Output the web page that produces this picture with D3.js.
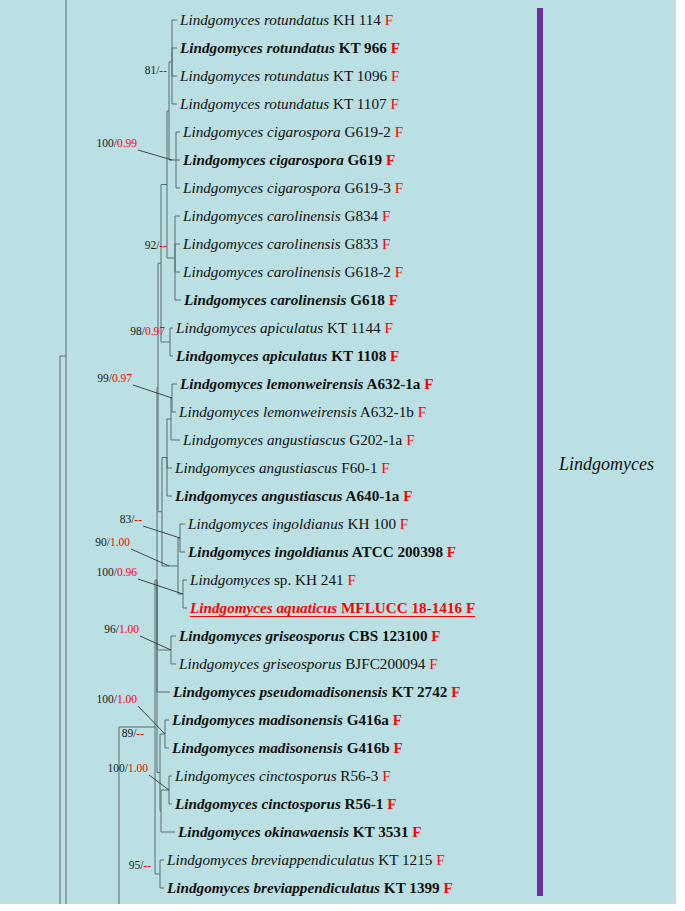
<!DOCTYPE html>
<html>
<head>
<meta charset="utf-8">
<script src="https://cdn.jsdelivr.net/npm/d3@7/dist/d3.min.js"></script>
<style>
  html, body { margin: 0; padding: 0; background: #ffffff; }
  svg { display: block; }
</style>
</head>
<body>
<svg id="chart" width="685" height="911"></svg>
<script>
// ---------------- DATA ----------------
// Taxon names (italic part) and strain codes (upright part), one per tip row
const taxa = [
  "Lindgomyces rotundatus", "Lindgomyces rotundatus", "Lindgomyces rotundatus", "Lindgomyces rotundatus",
  "Lindgomyces cigarospora", "Lindgomyces cigarospora", "Lindgomyces cigarospora",
  "Lindgomyces carolinensis", "Lindgomyces carolinensis", "Lindgomyces carolinensis", "Lindgomyces carolinensis",
  "Lindgomyces apiculatus", "Lindgomyces apiculatus",
  "Lindgomyces lemonweirensis", "Lindgomyces lemonweirensis",
  "Lindgomyces angustiascus", "Lindgomyces angustiascus", "Lindgomyces angustiascus",
  "Lindgomyces ingoldianus", "Lindgomyces ingoldianus",
  "Lindgomyces", "Lindgomyces aquaticus",
  "Lindgomyces griseosporus", "Lindgomyces griseosporus",
  "Lindgomyces pseudomadisonensis",
  "Lindgomyces madisonensis", "Lindgomyces madisonensis",
  "Lindgomyces cinctosporus", "Lindgomyces cinctosporus",
  "Lindgomyces okinawaensis",
  "Lindgomyces breviappendiculatus", "Lindgomyces breviappendiculatus"
];
const strains = [
  "KH 114", "KT 966", "KT 1096", "KT 1107",
  "G619-2", "G619", "G619-3",
  "G834", "G833", "G618-2", "G618",
  "KT 1144", "KT 1108",
  "A632-1a", "A632-1b",
  "G202-1a", "F60-1", "A640-1a",
  "KH 100", "ATCC 200398",
  "sp. KH 241", "MFLUCC 18-1416",
  "CBS 123100", "BJFC200094",
  "KT 2742",
  "G416a", "G416b",
  "R56-3", "R56-1",
  "KT 3531",
  "KT 1215", "KT 1399"
];
// ex-type (bold) rows
const boldRows = [1, 5, 10, 12, 13, 17, 19, 21, 22, 24, 25, 26, 28, 29, 31];
// new isolate (red, underlined)
const newIsolateRows = [21];
const habitatCode = "F";

// Tree topology with branch lengths (Newick). Tips "Lk" = row k; "Xk" = off-frame context tips.
const cladeCO = "((L27:3,L28:3)Cin:8,L29:14)CO";
const cladeH = "((L25:4,L26:4)Mad:5," + cladeCO + ":1)H";
const cladeA = "((L0:5,L1:5,L2:5,L3:5)Rot:3,(L4:4,L5:4,L6:4)Cig:7)A";
const cladeB = "(" + cladeA + ":2,(L7:5,L8:5,L9:5,L10:6)Car:8)B";
const cladeC = "(" + cladeB + ":6,(L11:3,L12:3)Api:9)C";
const cladeD = "(((L13:5,L14:4)Lem:1,L15:9)Lem2:4,L16:5,L17:5)D";
const cladeE = "((L18:5,L19:5)Ing:2,(L20:4,L21:4)Aq:5)E";
const cladeF = "(" + cladeD + ":5," + cladeE + ":16)F";
const cladeG = "(" + cladeC + ":3," + cladeF + ":4)G";
const cladeUpper = "(" + cladeG + ":1,(L22:5,L23:5)Gris:14,L24:13," + cladeH + ":3)Upper";
const cladeMain = "(" + cladeUpper + ":2,(L30:4,L31:4)Brevi:5)Main";
const newick = "((X-22:50,X46:50)N66:6,((" + cladeMain + ":36,X40:20)N119:29,X60:10)Z:30)R;";

// Support values: ML bootstrap / Bayesian PP
const supportNodes = ["Rot", "Cig", "Car", "Api", "Lem", "Ing", "E", "Aq", "Gris", "Mad", "Main", "Cin", "Brevi"];
const supportBS    = ["81", "100", "92", "98", "99", "83", "90", "100", "96", "100", "89", "100", "95"];
const supportPP    = ["--", "0.99", "--", "0.97", "0.97", "--", "1.00", "0.96", "1.00", "1.00", "--", "1.00", "--"];

const cladeName = "Lindgomyces";
const cladeRows = [0, 31];

// ---------------- LAYOUT / STYLE ----------------
const W = 685, H = 911;
const panelW = 676, panelH = 904;
const svg = d3.select("#chart");

// label placement relative to node: [dx, dy, leader, targetMode]
const labelPlace = {
  Rot:   [-5, 12, false],
  Cig:   [-39, -13, true, "stem"],
  Car:   [-8, -9, false],
  Api:   [-5, -7, false],
  Lem:   [-40, -16, true, "node"],
  Ing:   [-38, -15, true, "node"],
  E:     [-48, -20, true, "stem"],
  Aq:    [-46, -18, true, "node"],
  Gris:  [-32, -17, true, "node"],
  Mad:   [-28, -31, true, "node"],
  Main:  [-11, 10, false],
  Cin:   [-21, -18, true, "node"],
  Brevi: [-9, -5, false]
};

function parseNewick(s) {
  let i = 0;
  function node() {
    const n = { children: [] };
    if (s[i] === "(") {
      i++;
      n.children.push(node());
      while (s[i] === ",") { i++; n.children.push(node()); }
      i++; // ')'
    }
    let name = "";
    while (i < s.length && !":,);".includes(s[i])) name += s[i++];
    n.name = name;
    n.length = 0;
    if (s[i] === ":") {
      i++;
      let num = "";
      while (i < s.length && !",);".includes(s[i])) num += s[i++];
      n.length = +num;
    }
    if (!n.children.length) delete n.children;
    return n;
  }
  return node();
}

const root = d3.hierarchy(parseNewick(newick));
const xScale = d3.scaleLinear().domain([0, 130]).range([60, 190]);
const yScale = d3.scaleLinear().domain([0, 31]).range([20, 888]);

root.each(d => { d.len = (d.parent ? d.parent.len : 0) + d.data.length; d.px = xScale(d.len); });
root.eachAfter(d => {
  if (d.children) {
    d.py = (d.children[0].py + d.children[d.children.length - 1].py) / 2;
  } else {
    d.row = +d.data.name.slice(1);
    d.py = yScale(d.row);
  }
});
const byName = {};
root.each(d => { if (d.data.name) byName[d.data.name] = d; });

// background panel
svg.append("rect").attr("x", 0).attr("y", 0).attr("width", W).attr("height", H).attr("fill", "#ffffff");
svg.append("rect").attr("x", 0).attr("y", 0).attr("width", panelW).attr("height", panelH).attr("fill", "#bae0e3");

svg.append("defs").append("clipPath").attr("id", "panelClip")
  .append("rect").attr("x", 0).attr("y", 0).attr("width", panelW).attr("height", panelH);

const g = svg.append("g").attr("clip-path", "url(#panelClip)");

// branches
g.append("g").selectAll("path")
  .data(root.links())
  .join("path")
  .attr("d", l => `M${l.source.px},${l.source.py}V${l.target.py}H${l.target.px}`)
  .attr("fill", "none")
  .attr("stroke", "#5b6d6e")
  .attr("stroke-width", 1);

// tip labels
const serif = "'Liberation Serif', 'Times New Roman', Times, serif";
const tips = root.leaves().filter(d => d.data.name[0] === "L");
const tipG = g.append("g").attr("font-family", serif).attr("font-size", 15.2);
tips.forEach(d => {
  const r = d.row;
  const bold = boldRows.includes(r);
  const isNew = newIsolateRows.includes(r);
  const col = isNew ? "#ff0000" : "#111111";
  const t = tipG.append("text")
    .attr("x", d.px + 3)
    .attr("y", d.py)
    .attr("dy", "0.33em")
    .attr("fill", col)
    .attr("font-weight", bold ? "bold" : "normal");
  t.append("tspan").attr("font-style", "italic").text(taxa[r]);
  t.append("tspan").text(" " + strains[r] + " ");
  t.append("tspan").attr("fill", "#ff0000").text(habitatCode);
  if (isNew) {
    const w = t.node().getComputedTextLength();
    tipG.append("line")
      .attr("x1", d.px + 3).attr("x2", d.px + 3 + w)
      .attr("y1", d.py + 8.5).attr("y2", d.py + 8.5)
      .attr("stroke", "#ff0000").attr("stroke-width", 1.2);
  }
});

// support labels
const supG = g.append("g").attr("font-family", serif).attr("font-size", 11.5);
supportNodes.forEach((name, i) => {
  const nd = byName[name];
  const [dx, dy, leader, mode] = labelPlace[name];
  const tx = nd.px + dx, ty = nd.py + dy;
  const t = supG.append("text").attr("x", tx).attr("y", ty).attr("text-anchor", "end").attr("fill", "#1a1a1a");
  t.append("tspan").text(supportBS[i] + "/");
  t.append("tspan").attr("fill", "#ff0000").text(supportPP[i]);
  if (leader) {
    const targetX = mode === "stem" ? nd.parent.px + 0.45 * (nd.px - nd.parent.px) : nd.px;
    supG.append("line")
      .attr("x1", tx + 1).attr("y1", ty + 3)
      .attr("x2", targetX).attr("y2", nd.py)
      .attr("stroke", "#333333").attr("stroke-width", 0.9);
  }
});

// clade bar and name
const barTop = yScale(cladeRows[0]) - 12;
const barBot = yScale(cladeRows[1]) + 8;
svg.append("rect")
  .attr("x", 537).attr("y", barTop)
  .attr("width", 6).attr("height", barBot - barTop)
  .attr("fill", "#7030a0");
svg.append("text")
  .attr("x", 559).attr("y", (barTop + barBot) / 2 + 18)
  .attr("font-family", serif).attr("font-size", 18).attr("font-style", "italic")
  .attr("fill", "#111111")
  .text(cladeName);
</script>
</body>
</html>
